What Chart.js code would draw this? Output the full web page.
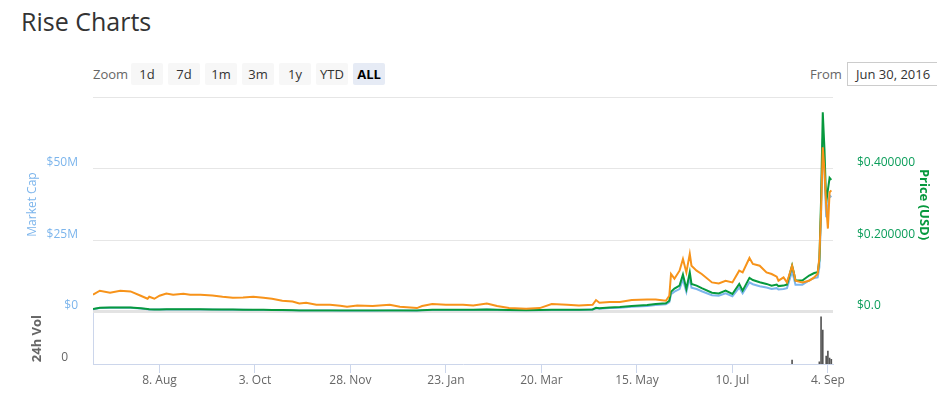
<!DOCTYPE html>
<html>
<head>
<meta charset="utf-8">
<script src="https://cdn.jsdelivr.net/npm/chart.js@4.4.0/dist/chart.umd.min.js"></script>
<style>
  body { margin: 0; width: 937px; height: 396px; overflow: hidden; background: #fff; font-family: "Open Sans", sans-serif; position: relative; }
  .title { position: absolute; left: 21px; top: 9px; font-size: 25px; line-height: 25px; color: #333; }
  .zoom { position: absolute; left: 93px; top: 63px; font-size: 13px; line-height: 22px; color: #666; }
  .btn { position: absolute; top: 63px; width: 32px; height: 22px; line-height: 22px; text-align: center; background: #f7f7f7; color: #333; font-size: 13px; border-radius: 2px; }
  .btn.on { background: #e6ebf5; color: #000; font-weight: bold; }
  .from { position: absolute; left: 810px; top: 63px; font-size: 13px; line-height: 22px; color: #666; }
  .input { position: absolute; left: 847px; top: 62px; width: 110px; height: 24px; border: 1px solid #ccc; box-sizing: border-box; font-size: 13px; line-height: 22px; color: #333; padding-left: 8px; }
  #main { position: absolute; left: 0; top: 74px; }
  #vol { position: absolute; left: 0; top: 289px; }
</style>
</head>
<body>
<div class="title">Rise Charts</div>
<div class="zoom">Zoom</div>
<div class="btn" style="left:131px">1d</div>
<div class="btn" style="left:168px">7d</div>
<div class="btn" style="left:205px">1m</div>
<div class="btn" style="left:242px">3m</div>
<div class="btn" style="left:279px">1y</div>
<div class="btn" style="left:316px">YTD</div>
<div class="btn on" style="left:353px">ALL</div>
<div class="from">From</div>
<div class="input">Jun 30, 2016</div>
<canvas id="main" width="937" height="261"></canvas>
<canvas id="vol" width="937" height="107"></canvas>
<script>
// days since Jun 30, 2016
const days = [
  0, 4, 10, 16, 22, 28, 32, 33, 36, 39,
  43, 47, 53, 57, 63, 70, 76, 82, 88, 94,
  100, 105, 111, 117, 121, 125, 131, 139, 145, 149,
  155, 164, 174, 180, 190, 193, 199, 207, 217, 223,
  231, 237, 244, 254, 262, 269, 278, 285, 293, 295,
  297, 303, 309, 316, 325, 330, 336, 338, 339, 341,
  344, 346, 348, 350, 351, 354, 357, 363, 367, 371,
  375, 379, 381, 385, 387, 391, 395, 398, 401, 402,
  405, 407, 410, 411, 412, 416, 420, 423, 425, 426,
  427, 428, 429, 430, 431, 432, 433
];

// price in USD
const priceUsd = [
  0.0076, 0.0113, 0.0118, 0.0121, 0.0121, 0.0099, 0.0076, 0.0070, 0.0065, 0.0065,
  0.0070, 0.0070, 0.0070, 0.0068, 0.0068, 0.0065, 0.0062, 0.0062, 0.0059, 0.0056,
  0.0056, 0.0051, 0.0048, 0.0042, 0.0039, 0.0039, 0.0037, 0.0037, 0.0034, 0.0034,
  0.0034, 0.0034, 0.0039, 0.0037, 0.0034, 0.0042, 0.0056, 0.0056, 0.0056, 0.0056,
  0.0065, 0.0056, 0.0048, 0.0042, 0.0048, 0.0056, 0.0056, 0.0056, 0.0065, 0.0113,
  0.0099, 0.0121, 0.0132, 0.0161, 0.0189, 0.0217, 0.0239, 0.0310, 0.0563, 0.0648,
  0.0732, 0.1042, 0.0639, 0.1107, 0.0780, 0.0732, 0.0662, 0.0535, 0.0515, 0.0592,
  0.0499, 0.0780, 0.0592, 0.0949, 0.0887, 0.0825, 0.0780, 0.0732, 0.0761, 0.0718,
  0.0732, 0.0761, 0.1296, 0.1099, 0.0873, 0.0873, 0.1014, 0.1085, 0.1107, 0.1437,
  0.3127, 0.5577, 0.4535, 0.3042, 0.3408, 0.3746, 0.3690
];

// price in BTC (satoshi)
const priceSat = [
  850, 1050, 950, 1050, 1015, 800, 650, 750, 650, 800,
  915, 850, 900, 850, 850, 815, 750, 700, 715, 750,
  700, 650, 550, 515, 415, 450, 350, 350, 300, 250,
  315, 285, 350, 250, 185, 285, 385, 350, 350, 315,
  415, 285, 185, 150, 185, 385, 350, 315, 350, 585,
  450, 485, 485, 585, 615, 615, 550, 800, 1885, 1650,
  2050, 2635, 1965, 2885, 2300, 2050, 1885, 1465, 1415, 1550,
  1465, 2050, 1965, 2685, 2385, 2300, 1965, 1885, 1750, 1550,
  1715, 1465, 2300, 1965, 1550, 1465, 1550, 1715, 1900, 2700,
  5050, 8200, 7050, 5300, 4150, 5950, 6050
];

// market cap, millions of USD
const marketCap = [
  0.90, 1.33, 1.39, 1.43, 1.43, 1.17, 0.90, 0.83, 0.77, 0.77,
  0.83, 0.83, 0.83, 0.80, 0.80, 0.77, 0.73, 0.73, 0.70, 0.66,
  0.66, 0.60, 0.57, 0.50, 0.46, 0.46, 0.44, 0.44, 0.40, 0.40,
  0.40, 0.40, 0.46, 0.44, 0.40, 0.50, 0.66, 0.66, 0.66, 0.66,
  0.77, 0.66, 0.57, 0.50, 0.57, 0.66, 0.66, 0.66, 0.77, 1.22,
  1.08, 1.32, 1.44, 1.75, 2.05, 2.36, 2.59, 3.37, 6.11, 7.04,
  7.95, 11.32, 6.94, 12.02, 8.46, 7.95, 7.19, 5.81, 5.59, 6.43,
  5.42, 8.46, 6.43, 10.30, 9.63, 8.96, 8.46, 7.95, 8.26, 7.79,
  7.95, 8.26, 14.07, 11.93, 9.48, 9.48, 11.01, 11.78, 12.02, 15.60,
  33.95, 60.55, 49.23, 33.03, 36.99, 40.66, 40.06
];

// 24h volume, millions of USD
const volDays = [410, 426, 427, 428, 430, 431, 432, 433];
const volume = [0.40, 0.23, 4.73, 3.40, 0.80, 1.30, 0.60, 0.47];

const tickDays = [39, 95, 151, 207, 263, 319, 375, 431];
const tickLabels = ["8. Aug", "3. Oct", "28. Nov", "23. Jan", "20. Mar", "15. May", "10. Jul", "4. Sep"];

Chart.defaults.font.family = "'Open Sans', sans-serif";
const pts = vals => days.map((d, i) => ({ x: d, y: vals[i] }));

new Chart(document.getElementById("main"), {
  type: "line",
  data: {
    datasets: [
      { label: "Price (BTC)", data: pts(priceSat), yAxisID: "yBtc", borderColor: "#f7931a", borderWidth: 2, pointRadius: 0, tension: 0 },
      { label: "Price (USD)", data: pts(priceUsd), yAxisID: "yUsd", borderColor: "#06993d", borderWidth: 2, pointRadius: 0, tension: 0 },
      { label: "Market Cap", data: pts(marketCap), yAxisID: "yCap", borderColor: "#7cb5ec", borderWidth: 2, pointRadius: 0, tension: 0 }
    ]
  },
  options: {
    responsive: false,
    animation: false,
    layout: { padding: 0 },
    plugins: { legend: { display: false }, tooltip: { enabled: false } },
    scales: {
      x: { type: "linear", min: 0, max: 434, display: false },
      yCap: {
        position: "left", min: 0, max: 75,
        afterFit: s => { s.width = 93; },
        ticks: {
          stepSize: 25, color: "#7cb5ec", padding: 15, labelOffset: -6, font: { size: 12 },
          callback: v => v === 75 ? "" : (v === 0 ? "$0" : "$" + v + "M")
        },
        grid: {
          drawTicks: false,
          color: c => c.tick.value === 0 ? "#e3e3e3" : "#e6e6e6",
          lineWidth: c => c.tick.value === 0 ? 3 : 1
        },
        border: { display: false },
        title: { display: true, text: "Market Cap", color: "#7cb5ec", font: { size: 12 }, padding: { top: 25 } }
      },
      yUsd: {
        position: "right", min: 0, max: 0.6,
        afterFit: s => { s.width = 104; },
        ticks: {
          stepSize: 0.2, color: "#0b9d5a", padding: 16, labelOffset: -6, font: { size: 12 },
          callback: v => {
            const r = Math.round(v * 10) / 10;
            if (r >= 0.6) return "";
            return r === 0 ? "$0.0" : "$" + r.toFixed(6);
          }
        },
        grid: { display: false },
        border: { display: false },
        title: { display: true, text: "Price (USD)", color: "#06993d", font: { size: 13, weight: "bold" }, padding: { top: 5 } }
      },
      yBtc: { display: false, min: 0, max: 10700 }
    }
  }
});

new Chart(document.getElementById("vol"), {
  type: "bar",
  data: {
    datasets: [
      { label: "24h Vol", data: volDays.map((d, i) => ({ x: d, y: volume[i] })), backgroundColor: "#555", barThickness: 1 }
    ]
  },
  options: {
    responsive: false,
    animation: false,
    layout: { padding: { top: 0, bottom: 8, left: 0, right: 104 } },
    plugins: { legend: { display: false }, tooltip: { enabled: false } },
    scales: {
      x: {
        type: "linear", min: 0, max: 434, offset: false,
        afterBuildTicks: s => { s.ticks = tickDays.map(v => ({ value: v })); },
        afterFit: s => { s.height = 24; },
        ticks: { callback: (v, i) => tickLabels[i], color: "#666", font: { size: 12 }, padding: 0, maxRotation: 0, autoSkip: false },
        grid: { drawOnChartArea: false, drawTicks: true, tickLength: 9, color: "#ccd6eb", offset: false },
        border: { color: "#ccd6eb" }
      },
      y: {
        min: 0, max: 5.1,
        afterBuildTicks: s => { s.ticks = [{ value: 0 }]; },
        afterFit: s => { s.width = 93; },
        ticks: { callback: () => "0", color: "#666", padding: 17, labelOffset: -6, font: { size: 12 } },
        grid: { display: false },
        border: { display: true, color: "#ccd6eb" },
        title: { display: true, text: "24h Vol", color: "#666", font: { size: 13, weight: "bold" }, padding: { top: 29 } }
      }
    }
  }
});
</script>
</body>
</html>
